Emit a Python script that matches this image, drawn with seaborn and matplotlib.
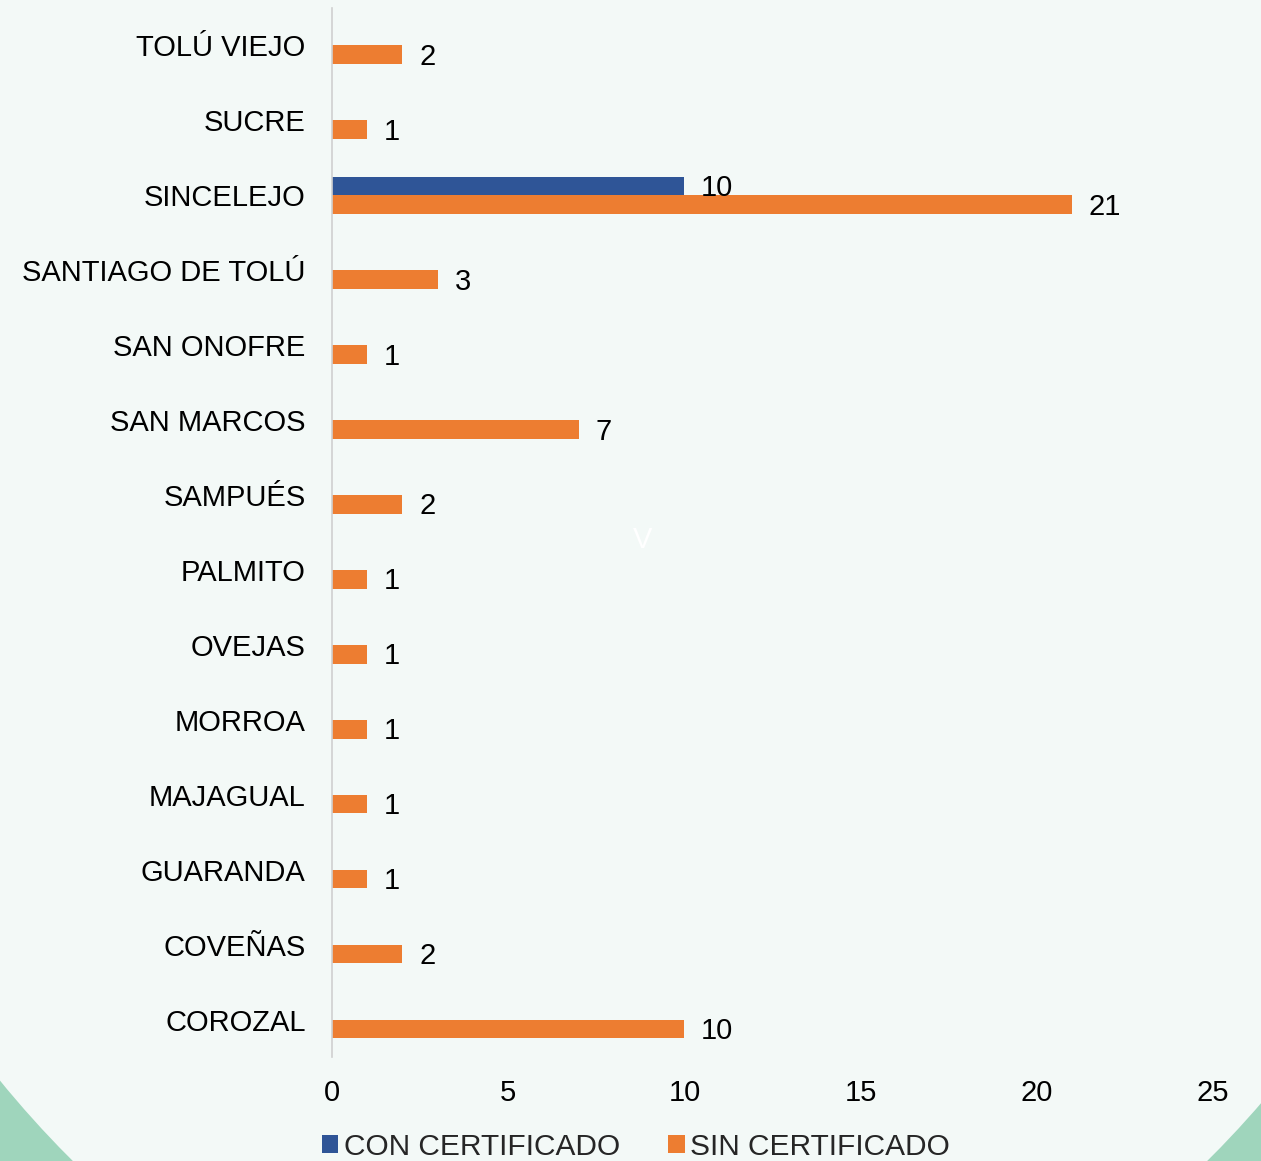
import pandas as pd
import numpy as np
import matplotlib.pyplot as plt
import seaborn as sns
from matplotlib.patches import Ellipse, Patch

# DATOS
MUNICIPIOS = ["TOLÚ VIEJO", "SUCRE", "SINCELEJO", "SANTIAGO DE TOLÚ", "SAN ONOFRE",
              "SAN MARCOS", "SAMPUÉS", "PALMITO", "OVEJAS", "MORROA",
              "MAJAGUAL", "GUARANDA", "COVEÑAS", "COROZAL"]
CON_CERT = [np.nan, np.nan, 10, np.nan, np.nan, np.nan, np.nan, np.nan, np.nan,
            np.nan, np.nan, np.nan, np.nan, np.nan]
SIN_CERT = [2, 1, 21, 3, 1, 7, 2, 1, 1, 1, 1, 1, 2, 10]
SERIES = ["CON CERTIFICADO", "SIN CERTIFICADO"]
COLORES = ["#2F5597", "#ED7D31"]

df = pd.DataFrame({
    "municipio": MUNICIPIOS * 2,
    "serie": [SERIES[0]] * len(MUNICIPIOS) + [SERIES[1]] * len(MUNICIPIOS),
    "valor": CON_CERT + SIN_CERT,
})

sns.set_theme(style="white")
plt.rcParams["font.family"] = ["Liberation Sans", "DejaVu Sans"]

W, H = 1261, 1161
fig = plt.figure(figsize=(W / 100, H / 100), dpi=100, facecolor="#9FD5BC")

# fondo: elipse clara sobre verde
fondo = Ellipse((640 / W, 1 - 210 / H), 2 * 930 / W, 2 * 1200 / H,
                transform=fig.transFigure, facecolor="#F3F9F7", edgecolor="none", zorder=-5)
fig.add_artist(fondo)

ax = fig.add_axes([332 / W, 1 - 1057 / H, (1213 - 332) / W, (1057 - 8) / H])
ax.set_facecolor("none")

sns.barplot(data=df, y="municipio", x="valor", hue="serie", order=MUNICIPIOS,
            hue_order=SERIES, palette=COLORES, width=0.5, orient="h",
            saturation=1, legend=False, ax=ax)

for cont in ax.containers:
    labels = ["" if np.isnan(v) else f"{v:g}" for v in cont.datavalues]
    anns = ax.bar_label(cont, labels=labels, padding=12, fontsize=21, color="#000000")
    for a in anns:
        a.xyann = (12, -1.5)
    for rect in cont:
        rect.set_edgecolor("none")

ax.set_xlim(0, 25)
ax.set_xticks([0, 5, 10, 15, 20, 25])
ax.set_xlabel("")
ax.set_ylabel("")
ax.tick_params(axis="x", length=0, pad=16, labelsize=21, labelcolor="#000000")
ax.tick_params(axis="y", length=0, pad=19, labelsize=21, labelcolor="#000000")
for s in ["top", "right", "bottom"]:
    ax.spines[s].set_visible(False)
ax.spines["left"].set_color("#D0D0D0")
ax.spines["left"].set_linewidth(1.2)
ax.grid(False)

fig.text(643 / W, 1 - 540 / H, "V", color="white", fontsize=21, ha="center", va="center")

handles = [Patch(facecolor=c, edgecolor="none") for c in COLORES]
fig.legend(handles, SERIES, loc="center", bbox_to_anchor=(636 / W, 1 - 1147 / H),
           ncol=2, frameon=False, fontsize=21.5, handlelength=0.55, handleheight=0.55,
           handletextpad=0.2, columnspacing=1.6, borderaxespad=0)

fig.savefig("out.png", dpi=100, facecolor=fig.get_facecolor())
